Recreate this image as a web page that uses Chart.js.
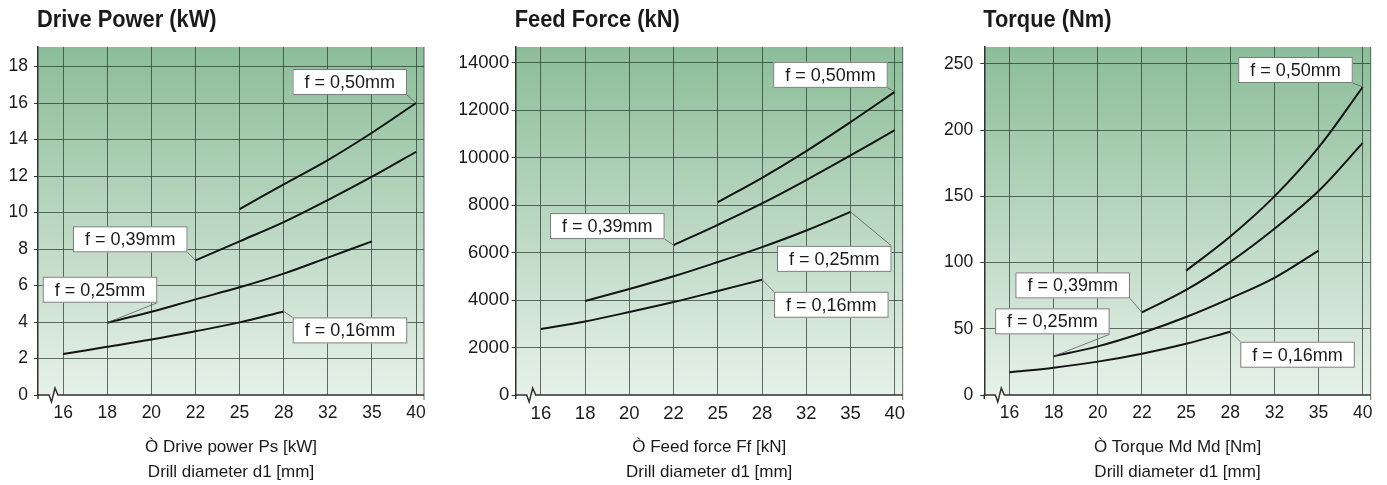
<!DOCTYPE html>
<html lang="en">
<head>
  <meta charset="UTF-8">
  <title>Drill Performance Charts</title>
  <script src="https://cdn.jsdelivr.net/npm/chart.js@4.4.0/dist/chart.umd.min.js"></script>
  <style>
    html, body { margin: 0; padding: 0; background: #fff; }
    body { width: 1387px; height: 485px; position: relative; overflow: hidden; }
    canvas { position: absolute; top: 0; }
  </style>
</head>
<body>
  <canvas id="powerChart"></canvas>
  <canvas id="forceChart"></canvas>
  <canvas id="torqueChart"></canvas>
  <script>
    // Drill diameters d1 [mm], plotted at equal spacing
    const diameters = ['16', '18', '20', '22', '25', '28', '32', '35', '40'];
    const feedLabels = ['f = 0,16mm', 'f = 0,25mm', 'f = 0,39mm', 'f = 0,50mm'];

    // Drive power Ps [kW]
    const powerF016 = [2.25, 2.64, 3.04, 3.49, 3.98, 4.58, null, null, null];
    const powerF025 = [null, 3.96, 4.56, 5.24, 5.90, 6.65, 7.53, 8.42, null];
    const powerF039 = [null, null, null, 7.38, 8.42, 9.47, 10.68, 11.96, 13.33];
    const powerF050 = [null, null, null, null, 10.19, 11.54, 12.87, 14.37, 16.0];
    const powerTicks = [0, 2, 4, 6, 8, 10, 12, 14, 16, 18];

    // Feed force Ff [kN]
    const forceF016 = [2780, 3100, 3495, 3915, 4380, 4855, null, null, null];
    const forceF025 = [null, 3960, 4465, 5000, 5600, 6230, 6930, 7715, null];
    const forceF039 = [null, null, null, 6315, 7170, 8070, 9055, 10090, 11160];
    const forceF050 = [null, null, null, null, 8125, 9150, 10275, 11495, 12770];
    const forceTicks = [0, 2000, 4000, 6000, 8000, 10000, 12000, 14000];

    // Torque Md [Nm]
    const torqueF016 = [17.1, 20.6, 25.2, 31.2, 38.7, 47.8, null, null, null];
    const torqueF025 = [null, 29.2, 36.7, 46.8, 58.9, 73.0, 88.5, 109.0, null];
    const torqueF039 = [null, null, null, 62.4, 79.3, 100.5, 125.5, 154.0, 190.4];
    const torqueF050 = [null, null, null, null, 93.9, 119.7, 150.0, 187.0, 232.6];
    const torqueTicks = [0, 50, 100, 150, 200, 250];

    const textColor = '#1a1a1a';
    const axisColor = '#2e332f';
    const gridColor = 'rgba(45, 55, 48, 0.72)';
    const sans = "'Liberation Sans', Arial, Helvetica, sans-serif";

    // background, heading, bottom axis with break mark, and label callouts
    const panelPlugin = {
      id: 'panel',
      beforeDraw(chart) {
        const { ctx, chartArea: a } = chart;
        const g = ctx.createLinearGradient(0, a.top, 0, a.bottom);
        g.addColorStop(0, '#8cbd99');
        g.addColorStop(1, '#e7f1e9');
        ctx.save();
        ctx.fillStyle = g;
        ctx.fillRect(a.left, a.top, a.right - a.left, a.bottom - a.top);
        ctx.restore();
      },
      afterDraw(chart, args, opts) {
        const { ctx, chartArea: a } = chart;
        ctx.save();

        // heading, bold and slightly condensed
        ctx.save();
        ctx.translate(a.left - 1, 26.7);
        ctx.scale(0.91, 1);
        ctx.font = 'bold 24px ' + sans;
        ctx.fillStyle = textColor;
        ctx.textAlign = 'left';
        ctx.textBaseline = 'alphabetic';
        ctx.fillText(opts.heading, 0, 0);
        ctx.restore();

        // right frame edge
        ctx.strokeStyle = gridColor;
        ctx.lineWidth = 1;
        ctx.beginPath();
        ctx.moveTo(a.right, a.top);
        ctx.lineTo(a.right, a.bottom + 5);
        ctx.stroke();

        // bottom axis with break
        const b = a.bottom;
        const x0 = a.left + 11;
        ctx.strokeStyle = axisColor;
        ctx.lineWidth = 1.5;
        ctx.beginPath();
        ctx.moveTo(a.left, b + 4);
        ctx.lineTo(a.left, b);
        ctx.lineTo(x0, b);
        ctx.lineTo(x0 + 2.5, b + 7);
        ctx.lineTo(x0 + 6, b - 7);
        ctx.lineTo(x0 + 9, b);
        ctx.lineTo(a.right, b);
        ctx.stroke();

        // callouts
        ctx.font = '18px ' + sans;
        ctx.textAlign = 'center';
        ctx.textBaseline = 'middle';
        (opts.callouts || []).forEach((c, i) => {
          const pts = chart.getDatasetMeta(i).data;
          const p = c.end === 'last' ? pts[pts.length - 1] : pts[0];
          const label = chart.data.datasets[i].label;
          const w = ctx.measureText(label).width + 24;
          const h = 26;
          const cx = p.x + c.dx;
          const cy = p.y + c.dy;
          const left = c.corner[1] === 'r' ? cx - w : cx;
          const top = c.corner[0] === 'b' ? cy - h : cy;

          ctx.strokeStyle = '#5a5a5a';
          ctx.lineWidth = 0.8;
          ctx.beginPath();
          ctx.moveTo(p.x, p.y);
          ctx.lineTo(cx, cy);
          ctx.stroke();

          ctx.fillStyle = '#fff';
          ctx.fillRect(left, top, w, h);
          ctx.strokeStyle = '#7a7a7a';
          ctx.lineWidth = 1;
          ctx.strokeRect(left + 0.5, top + 0.5, w - 1, h - 1);

          ctx.fillStyle = textColor;
          ctx.fillText(label, left + w / 2, top + h / 2 + 1);
        });
        ctx.restore();
      }
    };

    function toPoints(values) {
      return values
        .map((v, i) => (v === null ? null : { x: i, y: v }))
        .filter(p => p !== null);
    }

    function makeChart(id, cfg) {
      const canvas = document.getElementById(id);
      canvas.style.left = cfg.left + 'px';
      canvas.width = cfg.width;
      canvas.height = 485;

      const tickFont = { family: sans, size: cfg.tickSize };

      return new Chart(canvas, {
        type: 'line',
        data: {
          datasets: cfg.series.map((values, i) => ({
            label: feedLabels[i],
            data: toPoints(values),
            borderColor: '#141414',
            borderWidth: 2,
            pointRadius: 0,
            fill: false,
            tension: 0.35
          }))
        },
        options: {
          responsive: false,
          animation: false,
          events: [],
          layout: { padding: { top: 47, left: 0, right: cfg.padRight, bottom: 0 } },
          plugins: {
            legend: { display: false },
            tooltip: { enabled: false },
            title: { display: false },
            panel: { heading: cfg.title, callouts: cfg.callouts }
          },
          scales: {
            x: {
              type: 'linear',
              min: -0.57,
              max: 8.18,
              afterBuildTicks: s => { s.ticks = diameters.map((_, i) => ({ value: i })); },
              afterFit: s => { s.height = 90; },
              ticks: {
                callback: v => diameters[v],
                autoSkip: false,
                maxRotation: 0,
                color: textColor,
                font: tickFont,
                padding: 7.5
              },
              grid: { color: gridColor, lineWidth: 1, drawTicks: false },
              border: { display: false },
              title: {
                display: true,
                text: [cfg.xTitle, 'Drill diameter d1 [mm]'],
                color: textColor,
                font: { family: sans, size: 17, lineHeight: 25 / 17 },
                padding: { top: 0, bottom: 0 }
              }
            },
            y: {
              min: 0,
              max: cfg.yMax,
              afterBuildTicks: s => { s.ticks = cfg.yTicks.map(v => ({ value: v })); },
              afterFit: s => { s.width = cfg.yWidth; },
              ticks: {
                callback: v => String(v),
                color: textColor,
                font: tickFont,
                padding: cfg.tickPad
              },
              grid: {
                color: c => (c.tick && c.tick.value === 0 ? 'rgba(0,0,0,0)' : gridColor),
                tickColor: axisColor,
                tickLength: 4,
                lineWidth: 1
              },
              border: { color: axisColor, width: 1.5 }
            }
          }
        },
        plugins: [panelPlugin]
      });
    }

    makeChart('powerChart', {
      left: 0, width: 440, yWidth: 38, padRight: 16, tickPad: 6, tickSize: 17.5,
      title: 'Drive Power (kW)',
      xTitle: 'Ò Drive power Ps [kW]',
      yMax: 19.07, yTicks: powerTicks,
      series: [powerF016, powerF025, powerF039, powerF050],
      callouts: [
        { end: 'last', corner: 'tl', dx: 9, dy: 6 },
        { end: 'first', corner: 'br', dx: 50, dy: -20 },
        { end: 'first', corner: 'br', dx: -8, dy: -8 },
        { end: 'last', corner: 'br', dx: -9, dy: -8 }
      ]
    });

    makeChart('forceChart', {
      left: 460, width: 460, yWidth: 55.7, padRight: 17.3, tickPad: 2.5, tickSize: 18.5,
      title: 'Feed Force (kN)',
      xTitle: 'Ò Feed force Ff [kN]',
      yMax: 14660, yTicks: forceTicks,
      series: [forceF016, forceF025, forceF039, forceF050],
      callouts: [
        { end: 'last', corner: 'tl', dx: 12, dy: 12 },
        { end: 'last', corner: 'tr', dx: 41, dy: 34 },
        { end: 'first', corner: 'br', dx: -9, dy: -6 },
        { end: 'last', corner: 'br', dx: -7, dy: -4 }
      ]
    });

    makeChart('torqueChart', {
      left: 920, width: 467, yWidth: 64.3, padRight: 16.3, tickPad: 7, tickSize: 17.5,
      title: 'Torque (Nm)',
      xTitle: 'Ò Torque Md Md [Nm]',
      yMax: 262.8, yTicks: torqueTicks,
      series: [torqueF016, torqueF025, torqueF039, torqueF050],
      callouts: [
        { end: 'last', corner: 'tl', dx: 10, dy: 10 },
        { end: 'first', corner: 'br', dx: 56, dy: -22 },
        { end: 'first', corner: 'br', dx: -12, dy: -14 },
        { end: 'last', corner: 'br', dx: -10, dy: -4 }
      ]
    });
  </script>
</body>
</html>
